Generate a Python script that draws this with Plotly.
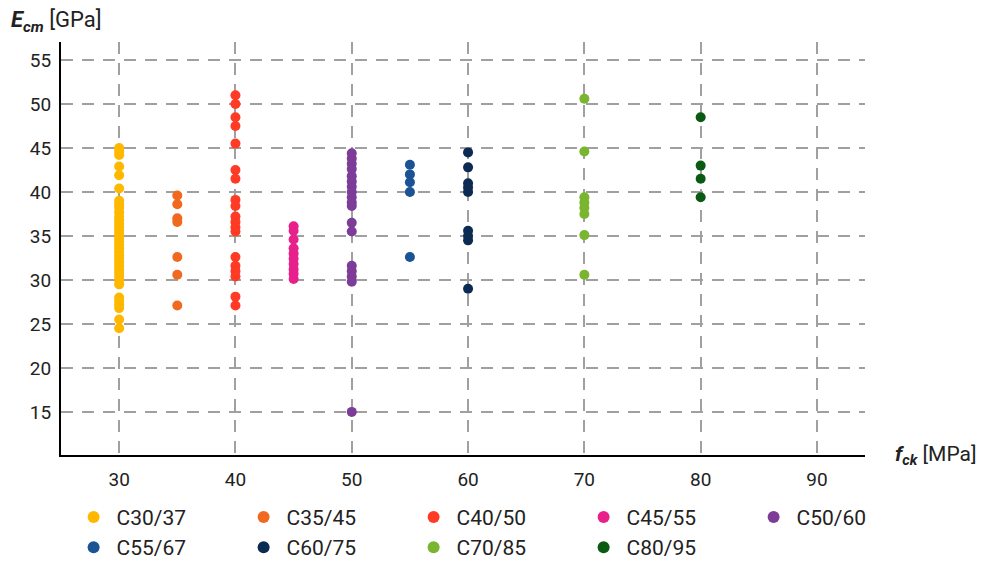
import plotly.graph_objects as go

classes = ["C30/37", "C35/45", "C40/50", "C45/55", "C50/60",
           "C55/67", "C60/75", "C70/85", "C80/95"]
fck = [30, 35, 40, 45, 50, 55, 60, 70, 80]
colors = ["#FFB800", "#F0691E", "#FF3A25", "#E8208C", "#7D3C98",
          "#1B5394", "#0C2B52", "#79B52E", "#0B5A13"]

ecm_c30 = [45.0, 44.6, 44.2, 42.9, 41.9, 40.4, 39.0, 38.6, 38.2, 37.7,
           37.2, 36.8, 36.4, 36.0, 35.6, 35.2, 34.8, 34.4, 34.0, 33.6,
           33.2, 32.8, 32.4, 32.0, 31.6, 31.2, 30.8, 30.4, 30.0, 29.5,
           28.0, 27.6, 27.2, 26.8, 25.5, 24.5]
ecm_c35 = [39.6, 38.6, 37.0, 36.6, 32.6, 30.6, 27.1]
ecm_c40 = [51.0, 50.0, 48.5, 47.5, 45.5, 42.5, 41.5, 39.1, 38.4, 37.2,
           36.6, 36.0, 35.5, 32.6, 31.6, 31.0, 30.4, 28.1, 27.1]
ecm_c45 = [36.1, 35.6, 34.6, 33.6, 33.0, 32.4, 31.8, 31.2, 30.7, 30.1]
ecm_c50 = [44.4, 43.8, 43.2, 42.6, 41.8, 41.2, 40.6, 40.0, 39.4, 38.8,
           38.4, 36.5, 35.5, 31.6, 31.0, 30.4, 29.8, 15.0]
ecm_c55 = [43.1, 42.0, 41.1, 40.0, 32.6]
ecm_c60 = [44.5, 42.8, 41.0, 40.5, 40.0, 35.6, 35.0, 34.5, 29.0]
ecm_c70 = [50.6, 44.6, 39.4, 38.8, 38.2, 37.5, 35.1, 30.6]
ecm_c80 = [48.5, 43.0, 41.5, 39.4]

series = [ecm_c30, ecm_c35, ecm_c40, ecm_c45, ecm_c50,
          ecm_c55, ecm_c60, ecm_c70, ecm_c80]

x_ticks = [30, 40, 50, 60, 70, 80, 90]
y_ticks = [15, 20, 25, 30, 35, 40, 45, 50, 55]

FONT = "Roboto"

fig = go.Figure()
for name, xv, ys, col in zip(classes, fck, series, colors):
    fig.add_trace(go.Scatter(
        x=[xv] * len(ys), y=ys, mode="markers", name=name,
        marker=dict(color=col, size=10, line=dict(width=0)),
    ))

grid = dict(showgrid=True, gridcolor="#A0A0A0", gridwidth=1.5,
            griddash="12px,9px", zeroline=False, showline=True,
            linecolor="black", linewidth=2, ticks="",
            tickfont=dict(family=FONT, size=19, color="#222"))

# page body has an 8px margin, so the figure is sized/offset to compensate
fig.update_layout(
    width=982, height=554,
    paper_bgcolor="white", plot_bgcolor="white",
    margin=dict(l=53, r=125, t=34, b=107, autoexpand=False),
    font=dict(family=FONT, size=19, color="#222"),
    xaxis=dict(range=[25.0, 94.13], tickvals=x_ticks, ticklabelstandoff=6, **grid),
    yaxis=dict(range=[10.1, 57.05], tickvals=y_ticks, ticklabelstandoff=4, **grid),
    showlegend=True,
    legend=dict(orientation="h", x=-0.0005, xanchor="left", y=-0.077, yanchor="top",
                entrywidth=119, entrywidthmode="pixels", borderwidth=10,
                itemwidth=36,
                bordercolor="rgba(0,0,0,0)", bgcolor="rgba(0,0,0,0)",
                font=dict(family=FONT, size=21, color="#222"),
                itemsizing="constant", tracegroupgap=0),
    annotations=[
        dict(text="<b><i>E</i></b><sub><b><i>cm</i></b></sub> [GPa]",
             xref="paper", yref="paper", x=-0.065, y=1.0, xanchor="left",
             yanchor="bottom", showarrow=False, yshift=4,
             font=dict(family=FONT, size=22, color="#222")),
        dict(text="<b><i>f</i></b><sub><b><i>ck</i></b></sub> [MPa]",
             xref="paper", yref="paper", x=1.0, y=0.0, xanchor="left",
             yanchor="middle", showarrow=False, xshift=28,
             font=dict(family=FONT, size=21, color="#222")),
    ],
)

fig.write_html("out.html")
